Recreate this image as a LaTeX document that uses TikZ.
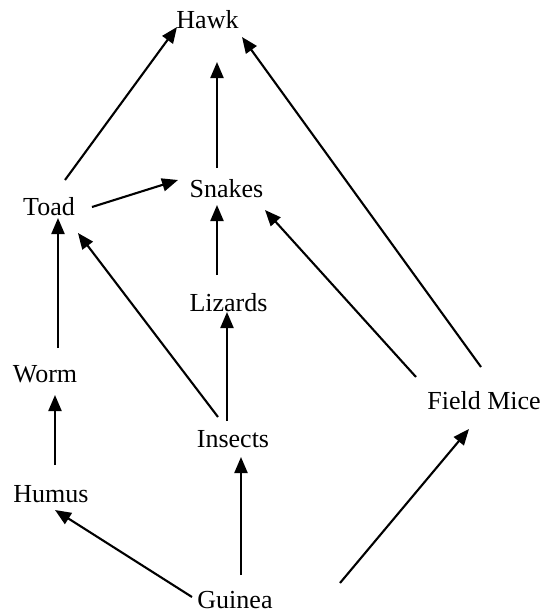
\documentclass[tikz,border=0pt]{standalone}
\usepackage{fontspec}
\setmainfont{Liberation Serif}
\usetikzlibrary{arrows.meta}
\tikzset{
  >={Triangle[length=16pt, width=13pt]},
  species/.style={anchor=base, inner sep=0pt, font=\fontsize{26}{30}\selectfont},
  feeds/.style={->, line width=2.1pt},
}

\begin{document}
\begin{tikzpicture}[x=1pt, y=-1pt]
  \useasboundingbox (0,0) rectangle (547,613);

  \node[species] (hawk) at (207.5,28) {Hawk};
  \node[species] (snakes) at (226.5,197) {Snakes};
  \node[species] (toad) at (49,215) {Toad};
  \node[species] (lizards) at (228.5,311) {Lizards};
  \node[species] (worm) at (45,382) {Worm};
  \node[species] (mice) at (484,409) {Field Mice};
  \node[species] (insects) at (233,447) {Insects};
  \node[species] (humus) at (51,502) {Humus};
  \node[species] (guinea) at (235,608) {Guinea};
  \coordinate (grass) at (340,583);

  \draw[feeds] ([shift={(16,-35)}]toad.base) -- ([shift={(-30.5,-1)}]hawk.base);
  \draw[feeds] ([shift={(-9.5,-29)}]snakes.base) -- ([shift={(9.5,34)}]hawk.base);
  \draw[feeds] ([shift={(-3,-42)}]mice.base) -- ([shift={(34.5,9)}]hawk.base);

  \draw[feeds] ([shift={(43,-8)}]toad.base) -- ([shift={(-48.5,-17)}]snakes.base);
  \draw[feeds] ([shift={(-11.5,-36)}]lizards.base) -- ([shift={(-9.5,8)}]snakes.base);
  \draw[feeds] ([shift={(-68,-32)}]mice.base) -- ([shift={(38.5,13)}]snakes.base);

  \draw[feeds] ([shift={(13,-34)}]worm.base) -- ([shift={(9,3)}]toad.base);
  \draw[feeds] ([shift={(-15,-30)}]insects.base) -- ([shift={(29,18)}]toad.base);
  \draw[feeds] ([shift={(-6,-26)}]insects.base) -- ([shift={(-1.5,1)}]lizards.base);
  \draw[feeds] ([shift={(4,-37)}]humus.base) -- ([shift={(10,13)}]worm.base);

  \draw[feeds] ([shift={(-43,-11)}]guinea.base) -- ([shift={(4,8)}]humus.base);
  \draw[feeds] ([shift={(6,-33)}]guinea.base) -- ([shift={(8,10)}]insects.base);
  \draw[feeds] (grass) -- ([shift={(-15,20)}]mice.base);
\end{tikzpicture}
\end{document}
